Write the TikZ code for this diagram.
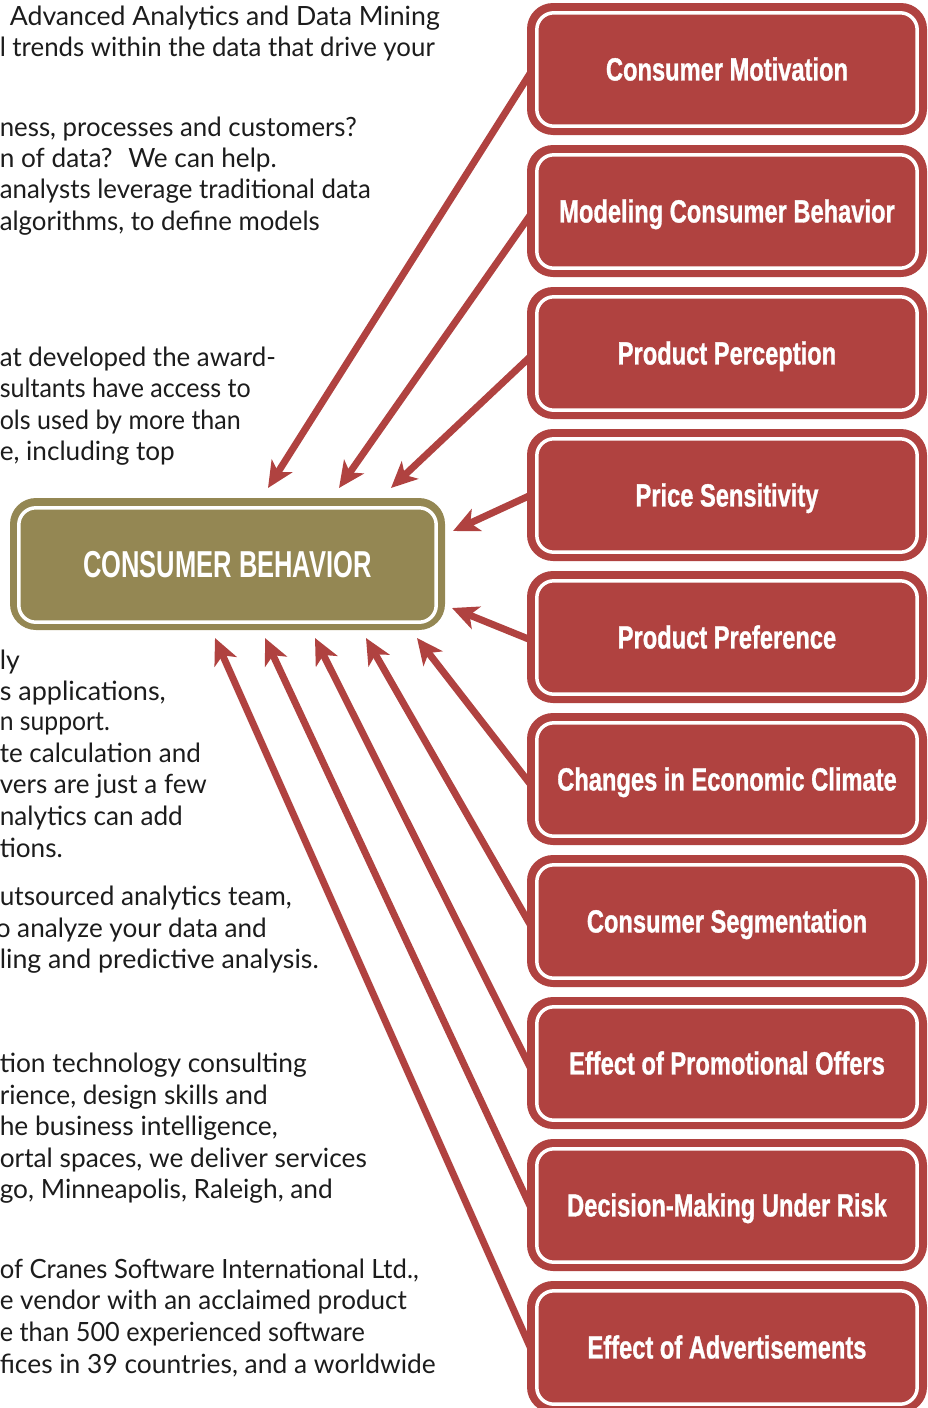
\documentclass[tikz,border=0pt]{standalone}
\usepackage{fontspec}
\usepackage{graphicx}
\setmainfont{Lato}
\newfontfamily\labfont[BoldFeatures={FakeBold=1.2}]{Liberation Sans}
\newfontfamily\mainlabfont{Liberation Sans}
\usetikzlibrary{arrows.meta}
\definecolor{boxred}{HTML}{B04240}
\definecolor{cbolive}{HTML}{948753}
\definecolor{bodygray}{HTML}{1C1C1C}
\tikzset{
  body/.style={anchor=base east, inner sep=0pt, text=bodygray, font=\fontsize{26.5}{26.5}\selectfont},
  redbox/.style={rectangle, rounded corners=26pt, fill=boxred, minimum width=400pt, minimum height=132pt,
    inner sep=0pt, text=white, text height=22.9pt, text depth=0pt},
  olivebox/.style={rectangle, rounded corners=26pt, fill=cbolive, minimum width=435pt, minimum height=132pt,
    inner sep=0pt, text=white, text height=26.9pt, text depth=0pt},
  inline/.style={draw=white, line width=3.5pt, rounded corners=17pt},
  conn/.style={draw=boxred, line width=7pt, -{Stealth[length=26pt,width=24pt,inset=7pt]}},
}
\newcommand{\lab}[1]{\scalebox{0.74}[1]{\labfont\fontsize{32}{32}\selectfont\bfseries #1}}
\newcommand{\mainlab}[1]{\scalebox{0.68}[1]{\mainlabfont\fontsize{37.5}{37.5}\selectfont\bfseries #1}}
\newcommand{\fitw}[2]{\resizebox{#1pt}{\height}{#2}}
\begin{document}
\begin{tikzpicture}[x=1pt,y=-1pt]
\useasboundingbox (0,0) rectangle (928,1408);
\clip (0,0) rectangle (928,1408);

% body text (clipped on the left)
\node[body] (p1) at (440,25) {\fitw{430}{Advanced Analytics and Data Mining}};
\node[body] (p2) at (435,56) {\fitw{435}{l trends within the data that drive your}};
\node[body] (p3) at (357,136) {\fitw{357}{ness, processes and customers?}};
\node[body] (p4) at (277,167) {\fitw{277}{n of data?~ We can help.}};
\node[body] (p5) at (371,198) {\fitw{371}{analysts leverage traditional data}};
\node[body] (p6) at (320,230) {\fitw{320}{algorithms, to define models}};
\node[body] (p7) at (276,366) {\fitw{276}{at developed the award-}};
\node[body] (p8) at (251,397) {\fitw{251}{sultants have access to}};
\node[body] (p9) at (241,429) {\fitw{241}{ols used by more than}};
\node[body] (p10) at (175,460) {\fitw{175}{e, including top}};
\node[body] (p11) at (20,669) {\fitw{20}{ly}};
\node[body] (p12) at (166,700) {\fitw{166}{s applications,}};
\node[body] (p13) at (110,730) {\fitw{110}{n support.}};
\node[body] (p14) at (201,762) {\fitw{201}{te calculation and}};
\node[body] (p15) at (207,793) {\fitw{207}{vers are just a few}};
\node[body] (p16) at (183,825) {\fitw{183}{nalytics can add}};
\node[body] (p17) at (63,857) {\fitw{63}{tions.}};
\node[body] (p18) at (292,905) {\fitw{292}{utsourced analytics team,}};
\node[body] (p19) at (267,937) {\fitw{271}{o analyze your data and}};
\node[body] (p20) at (319,968) {\fitw{319}{ling and predictive analysis.}};
\node[body] (p21) at (307,1072) {\fitw{307}{tion technology consulting}};
\node[body] (p22) at (268,1104) {\fitw{268}{rience, design skills and}};
\node[body] (p23) at (278,1135) {\fitw{278}{he business intelligence,}};
\node[body] (p24) at (367,1167) {\fitw{367}{ortal spaces, we deliver services}};
\node[body] (p25) at (333,1198) {\fitw{333}{go, Minneapolis, Raleigh, and}};
\node[body] (p26) at (419,1278) {\fitw{419}{of Cranes Software International Ltd.,}};
\node[body] (p27) at (407,1309) {\fitw{407}{e vendor with an acclaimed product}};
\node[body] (p28) at (365,1341) {\fitw{365}{e than 500 experienced software}};
\node[body] (p29) at (436,1373) {\fitw{436}{fices in 39 countries, and a worldwide}};

% coordinates of the free arrow tips
\coordinate (t1) at (268,488);
\coordinate (t2) at (339,488);
\coordinate (t3) at (391,488);
\coordinate (t4) at (453,531);
\coordinate (t5) at (452,608);
\coordinate (t6) at (417,638);
\coordinate (t7) at (366,638);
\coordinate (t8) at (315,638);
\coordinate (t9) at (265,638);
\coordinate (t10) at (215,638);

% box centres
\path (727,69) coordinate (c1) (727,211) coordinate (c2) (727,353) coordinate (c3)
      (727,495) coordinate (c4) (727,637) coordinate (c5) (727,779) coordinate (c6)
      (727,921) coordinate (c7) (727,1063) coordinate (c8) (727,1205) coordinate (c9)
      (727,1347) coordinate (c10);

% connectors
\foreach \i/\dy in {1/3,2/3,3/3,4/0,5/3,6/6,7/5,8/6,9/3,10/2}{
  \draw[conn] ([shift={(-196,\dy)}]c\i) -- (t\i);
}

% central box
\node[olivebox] (cb) at (227.5,564) {\mainlab{CONSUMER BEHAVIOR}};
\draw[inline] ([shift={(9,10)}]cb.north west) rectangle ([shift={(-9,-8)}]cb.south east);

% factor boxes
\node[redbox] (b1) at (c1) {\lab{Consumer Motivation}};
\node[redbox] (b2) at (c2) {\lab{Modeling Consumer Behavior}};
\node[redbox] (b3) at (c3) {\lab{Product Perception}};
\node[redbox] (b4) at (c4) {\lab{Price Sensitivity}};
\node[redbox] (b5) at (c5) {\lab{Product Preference}};
\node[redbox] (b6) at (c6) {\lab{Changes in Economic Climate}};
\node[redbox] (b7) at (c7) {\lab{Consumer Segmentation}};
\node[redbox] (b8) at (c8) {\lab{Effect of Promotional Offers}};
\node[redbox] (b9) at (c9) {\lab{Decision-Making Under Risk}};
\node[redbox] (b10) at (c10) {\lab{Effect of Advertisements}};
\foreach \i in {1,...,10}{
  \draw[inline] ([shift={(10,10)}]b\i.north west) rectangle ([shift={(-10,-9)}]b\i.south east);
}
\end{tikzpicture}
\end{document}
